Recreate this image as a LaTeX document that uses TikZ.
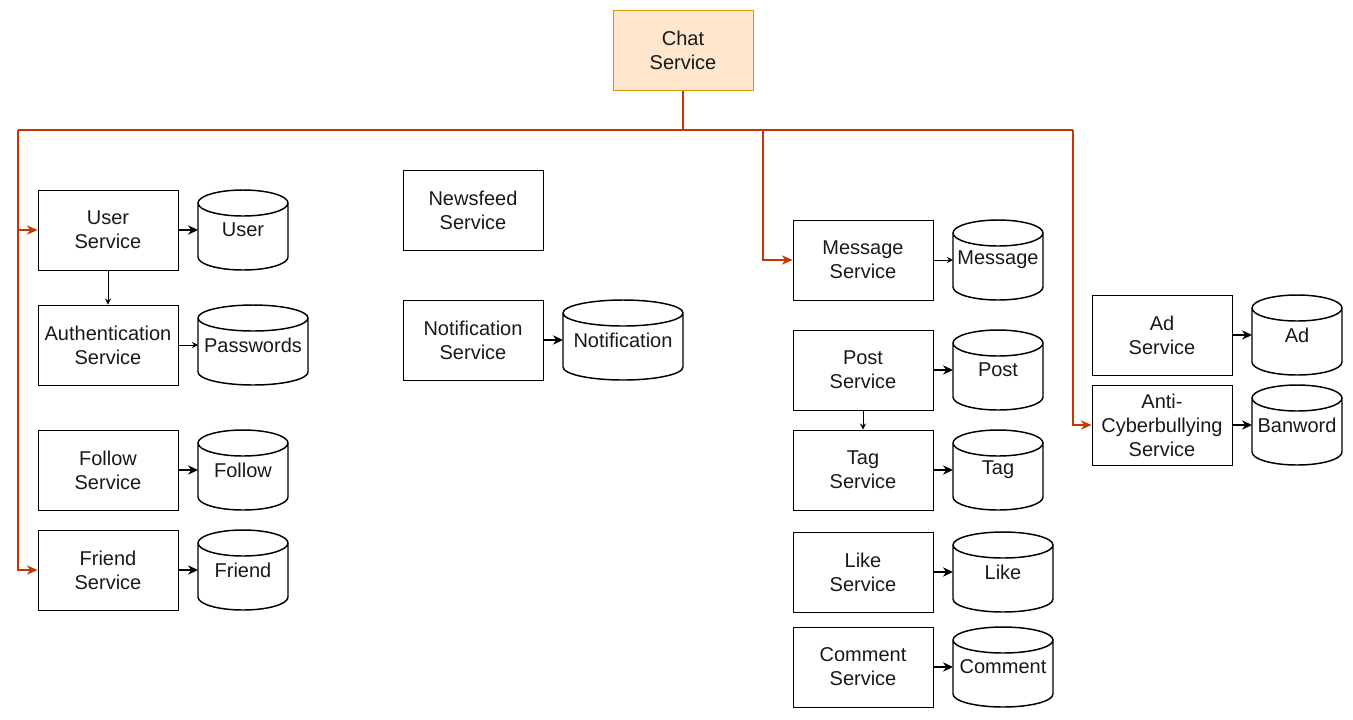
\documentclass[tikz,border=0pt]{standalone}
\usepackage{fontspec}
\setmainfont{Liberation Sans}
\usepackage{xcolor}
\usepackage{tikz}
\usetikzlibrary{arrows.meta,positioning,calc}
\definecolor{busred}{HTML}{C73500}
\definecolor{chatfill}{HTML}{FFE6CC}
\definecolor{chatline}{HTML}{D79B00}
% database drum drawn round a named node
\newcommand\drum[1]{%
  \draw[line width=1.1pt] let \p1=(#1.north west), \p2=(#1.south east), \n1={(\x2-\x1)/2} in
    ($(\x1,\y1)+(\n1,-9.75pt)$) ellipse [x radius=\n1,y radius=9.75pt]
    (\x1,\y1-9.75pt) -- (\x1,\y2+9.75pt)
    arc [start angle=180,end angle=360,x radius=\n1,y radius=9.75pt]
    -- (\x2,\y1-9.75pt);}

\begin{document}
\begin{tikzpicture}[
  x=0.75pt,y=-0.75pt,
  every node/.style={font=\fontsize{15pt}{18pt}\selectfont,text=black!90},
  svc/.style={draw,line width=0.75pt,minimum width=105pt,minimum height=60pt,align=center,inner sep=0pt},
  db/.style={minimum width=#1,minimum height=60pt,inner sep=0pt,outer sep=0pt},
  db/.default=67.5pt,
  big/.style={line width=1.1pt,-{Stealth[length=7.5pt,width=7pt]}},
  small/.style={line width=0.75pt,-{Stealth[length=4.5pt,width=4.5pt]}},
  bus/.style={busred,line width=1pt},
  busarr/.style={busred,line width=1pt,-{Stealth[length=8pt,width=7pt]}}
]
\useasboundingbox (0,0) rectangle (1353,719);

\node[svc,fill=chatfill,draw=chatline] (chat) at (683,50) {Chat\\Service};

\node[svc] (user) at (108,230) {User\\Service};
\node[db] (userdb) at (243,230) {User};
\node[svc] (auth) at (108,345) {Authentication\\Service};
\node[db=82.5pt] (pwdb) at (253,345) {Passwords};
\node[svc] (follow) at (108,470) {Follow\\Service};
\node[db] (followdb) at (243,470) {Follow};
\node[svc] (friend) at (108,570) {Friend\\Service};
\node[db] (frienddb) at (243,570) {Friend};

\node[svc] (news) at (473,210) {Newsfeed\\Service};
\node[svc] (notif) at (473,340) {Notification\\Service};
\node[db=90pt] (notifdb) at (623,340) {Notification};

\node[svc] (msg) at (863,260) {Message\\Service};
\node[db] (msgdb) at (998,260) {Message};
\node[svc] (post) at (863,370) {Post\\Service};
\node[db] (postdb) at (998,370) {Post};
\node[svc] (tag) at (863,470) {Tag\\Service};
\node[db] (tagdb) at (998,470) {Tag};
\node[svc] (like) at (863,572) {Like\\Service};
\node[db=75pt] (likedb) at (1003,572) {Like};
\node[svc] (comment) at (863,667) {Comment\\Service};
\node[db=75pt] (commentdb) at (1003,667) {Comment};

\node[svc] (ad) at (1162,335) {Ad\\Service};
\node[db] (addb) at (1297,335) {Ad};
\node[svc] (anti) at (1162,425) {Anti-\\Cyberbullying\\Service};
\node[db] (bandb) at (1297,425) {Banword};

\foreach \d in {userdb,pwdb,followdb,frienddb,notifdb,msgdb,postdb,tagdb,likedb,commentdb,addb,bandb}
  \drum{\d};

\draw[big] (user) -- (userdb);
\draw[small] (user) -- (auth);
\draw[small] (auth) -- (pwdb);
\draw[big] (follow) -- (followdb);
\draw[big] (friend) -- (frienddb);
\draw[big] (notif) -- (notifdb);
\draw[small] (msg) -- (msgdb);
\draw[big] (post) -- (postdb);
\draw[small] (post) -- (tag);
\draw[big] (tag) -- (tagdb);
\draw[big] (like) -- (likedb);
\draw[big] (comment) -- (commentdb);
\draw[big] (ad) -- (addb);
\draw[big] (anti) -- (bandb);

\coordinate (hub) at (683,130);
\coordinate (lft) at (18,130);
\coordinate (mid) at (763,130);
\coordinate (rgt) at (1073,130);
\draw[bus,line width=1.5pt] (chat.south) -- (hub);
\draw[bus] (lft) -- (rgt);
\draw[busarr] (lft) |- (friend.west);
\draw[busarr] (lft |- user.west) -- (user.west);
\draw[busarr] (mid) |- (msg.west);
\draw[busarr] (rgt) |- (anti.west);
\end{tikzpicture}
\end{document}
